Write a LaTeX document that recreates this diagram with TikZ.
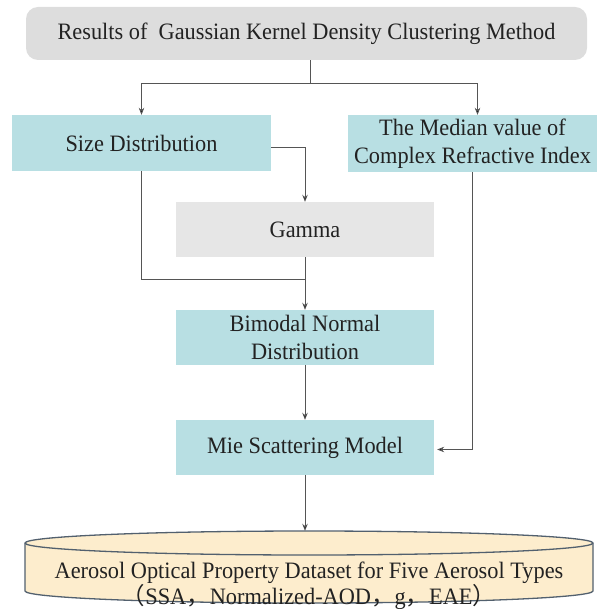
\documentclass[tikz,border=0pt]{standalone}
\usepackage{fontspec}
\setmainfont{Liberation Serif}[FakeStretch=0.95]
\newfontfamily\cjk{Noto Sans CJK SC}
\usetikzlibrary{arrows.meta}
\definecolor{boxgray}{HTML}{DDDDDD}
\definecolor{lightgray}{HTML}{E6E6E6}
\definecolor{teal}{HTML}{B8DFE3}
\definecolor{cream}{HTML}{FDEDCD}
\definecolor{cylborder}{HTML}{52606E}
\definecolor{linec}{HTML}{555555}
\definecolor{textc}{HTML}{222222}
\begin{document}
\begin{tikzpicture}[x=1pt,y=-1pt,
  base/.style={draw=none,inner sep=0pt,align=center,text=textc,font=\fontsize{23.5}{28}\selectfont},
  graybox/.style={base,fill=boxgray},
  lgraybox/.style={base,fill=lightgray,minimum width=258pt,minimum height=55pt},
  tealbox/.style={base,fill=teal},
  conn/.style={draw=linec,line width=0.8pt},
  arr/.style={conn,-{Stealth[length=7pt,width=5.5pt,fill=black]}},
  cyl/.style={draw=cylborder,line width=1.3pt,fill=cream}]
\useasboundingbox (0,0) rectangle (597,609);

\node[graybox,rounded corners=12pt,minimum width=561pt,minimum height=53pt] (top) at (306.5,33.5)
  {Results of\ \ Gaussian Kernel Density Clustering Method};
\node[tealbox,minimum width=259pt,minimum height=56pt] (size) at (141.5,143) {Size Distribution};
\node[tealbox,minimum width=249pt,minimum height=57pt] (median) at (472.5,143.5)
  {The Median value of\\Complex Refractive Index};
\node[lgraybox] (gamma) at (305,229.5) {Gamma};
\node[tealbox,minimum width=258pt,minimum height=55pt] (bimodal) at (305,337.5)
  {Bimodal Normal\\Distribution};
\node[tealbox,minimum width=258pt,minimum height=55pt] (mie) at (305,447.5) {Mie Scattering Model};

% cylinder
\draw[cyl] (25,543) -- (25,591) arc[start angle=180,end angle=360,x radius=284pt,y radius=12pt]
  -- (593,543) arc[start angle=0,end angle=180,x radius=284pt,y radius=12pt] -- cycle;
\draw[cyl,fill=none] (25,543) arc[start angle=180,end angle=360,x radius=284pt,y radius=12pt];
\node[base,minimum width=568pt,minimum height=72pt] (db) at (309,567) {};
\node[base,font=\fontsize{23.5}{25}\selectfont] (dbtext) at (309,586)
  {Aerosol Optical Property Dataset for Five Aerosol Types\\
   {\cjk （}SSA{\cjk ，}Normalized-AOD{\cjk ，}g{\cjk ，}EAE{\cjk ）}};

% connectors
\coordinate (split) at (310,83);
\draw[conn] (top.south -| split) -- (split);
\draw[arr] (split) -| (size.north);
\draw[arr] (split) -| ([xshift=5pt]median.north);
\draw[arr] ([yshift=-4pt]size.east) -| (gamma.north);
\coordinate (join) at (305,279);
\draw[conn] (size.south) |- (join);
\draw[arr] (gamma.south) -- (bimodal.north);
\draw[arr] (bimodal.south) -- (mie.north);
\draw[arr] (median.south) |- ([xshift=3pt,yshift=-2pt]mie.east);
\draw[arr] (mie.south) -- (mie.south |- db.north);
\end{tikzpicture}
\end{document}
